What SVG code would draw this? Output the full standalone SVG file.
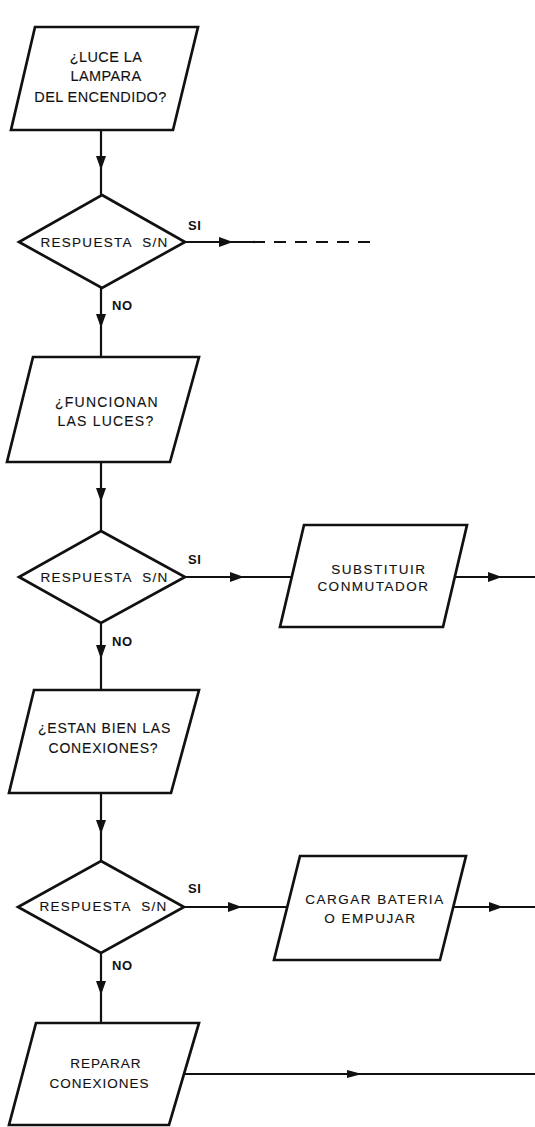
<svg xmlns="http://www.w3.org/2000/svg" width="535" height="1127" viewBox="0 0 535 1127">
  <style>
    .shape { fill: #fff; stroke: #111; stroke-width: 2.7; stroke-linejoin: miter; }
    .line { fill: none; stroke: #111; stroke-width: 2.2; }
    .dash { stroke-dasharray: 12 9; }
    .arr { marker-mid: url(#ah); }
    text { font-family: "Liberation Sans", Arial, sans-serif; fill: #111; stroke: #111; stroke-width: 0.12; text-anchor: middle; }
    .t145 { font-size: 14.5px; letter-spacing: 0.4px; }
    .t14 { font-size: 14px; letter-spacing: 1.2px; }
    .t14b { font-size: 14px; letter-spacing: 0.8px; }
    .t135 { font-size: 13.5px; letter-spacing: 1.5px; }
    .t135b { font-size: 13.5px; letter-spacing: 1px; }
    .dq { font-size: 13.5px; letter-spacing: 1.3px; word-spacing: 5px; }
    .lbl { font-size: 13px; font-weight: bold; stroke-width: 0; letter-spacing: 0.6px; text-anchor: start; }
  </style>
  <defs>
    <marker id="ah" markerWidth="14" markerHeight="10" refX="14" refY="5" orient="auto" markerUnits="userSpaceOnUse">
      <path d="M0,0 L14,5 L0,10 z" fill="#111"/>
    </marker>
    <marker id="ahs" markerWidth="15" markerHeight="8" refX="15" refY="4" orient="auto" markerUnits="userSpaceOnUse">
      <path d="M0,0 L15,4 L0,8 z" fill="#111"/>
    </marker>
  </defs>
  <rect width="535" height="1127" fill="#fff"/>

  <!-- connectors, with arrowheads placed mid-line -->
  <g id="connectors">
    <path class="line arr" d="M101,130 L101,170 L101,195"/>
    <path class="line arr" d="M185,242 L233,242 L253,242"/>
    <path class="line dash" d="M253,242 L378,242"/>
    <path class="line arr" d="M101,288 L101,328 L101,357"/>
    <path class="line arr" d="M101,462 L101,502 L101,531"/>
    <path class="line arr" d="M185,577 L244,577 L292,577"/>
    <path class="line arr" d="M455,577 L502,577 L535,577"/>
    <path class="line arr" d="M101,623 L101,659 L101,690"/>
    <path class="line arr" d="M101,793 L101,834 L101,861"/>
    <path class="line arr" d="M184,907 L242,907 L287,907"/>
    <path class="line arr" d="M453,907 L503,907 L535,907"/>
    <path class="line arr" d="M101,953 L101,995 L101,1023"/>
    <path class="line" style="marker-mid:url(#ahs)" d="M184,1074 L362,1074 L535,1074"/>
  </g>

  <g id="connector-labels">
    <text class="lbl" x="188" y="230">SI</text>
    <text class="lbl" x="112" y="310">NO</text>
    <text class="lbl" x="188" y="564">SI</text>
    <text class="lbl" x="112" y="646">NO</text>
    <text class="lbl" x="188" y="893">SI</text>
    <text class="lbl" x="112" y="970">NO</text>
  </g>

  <g id="q-lampara">
    <polygon class="shape" points="35,27 198,27 173,130 11,130"/>
    <text class="t145" x="106" y="62">¿LUCE LA</text>
    <text class="t145" x="106" y="81">LAMPARA</text>
    <text class="t145" x="100.5" y="102">DEL ENCENDIDO?</text>
  </g>

  <g id="d-resp-1">
    <polygon class="shape" points="102,195 185,242 102,288 19,242"/>
    <text class="dq" x="104.5" y="247">RESPUESTA S/N</text>
  </g>

  <g id="q-luces">
    <polygon class="shape" points="33,357 199,357 170,462 7,462"/>
    <text class="t14" x="107" y="407">¿FUNCIONAN</text>
    <text class="t14" x="106" y="426">LAS LUCES?</text>
  </g>

  <g id="d-resp-2">
    <polygon class="shape" points="101,531 185,577 101,623 19,577"/>
    <text class="dq" x="104.5" y="582">RESPUESTA S/N</text>
  </g>

  <g id="p-conmutador">
    <polygon class="shape" points="304,525 467,525 443,627 280,627"/>
    <text class="t135" x="379" y="574">SUBSTITUIR</text>
    <text class="t135" x="373.5" y="591">CONMUTADOR</text>
  </g>

  <g id="q-conexiones">
    <polygon class="shape" points="34,690 199,690 171,793 9,793"/>
    <text class="t14b" x="104.5" y="733">¿ESTAN BIEN LAS</text>
    <text class="t14b" x="103.5" y="753">CONEXIONES?</text>
  </g>

  <g id="d-resp-3">
    <polygon class="shape" points="101,861 184,907 101,953 18,907"/>
    <text class="dq" x="103.5" y="911">RESPUESTA S/N</text>
  </g>

  <g id="p-bateria">
    <polygon class="shape" points="300,856 466,856 440,960 274,960"/>
    <text class="t135" x="375" y="904">CARGAR BATERIA</text>
    <text class="t135" x="370.5" y="923">O EMPUJAR</text>
  </g>

  <g id="p-reparar">
    <polygon class="shape" points="36,1023 199,1023 169,1125 9,1125"/>
    <text class="t135b" x="106" y="1068">REPARAR</text>
    <text class="t135b" x="99.5" y="1088">CONEXIONES</text>
  </g>
</svg>
